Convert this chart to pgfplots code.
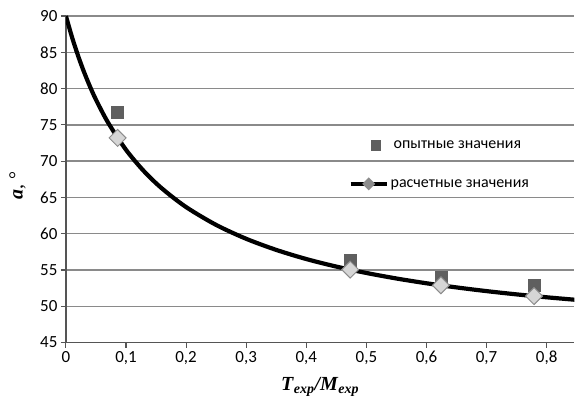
\documentclass[border=0pt]{standalone}
\usepackage{fontspec}
\setmainfont{Liberation Serif}
\newfontfamily\calfont{Carlito}
\usepackage{pgfplots}
\pgfplotsset{compat=1.18}
\definecolor{sqgray}{HTML}{5F5F5F}
\definecolor{dmfill}{HTML}{D6D6D6}
\definecolor{dmdraw}{HTML}{8C8C8C}
\definecolor{gridgray}{HTML}{8A8A8A}
\definecolor{axgray}{HTML}{555555}

\begin{document}
\begin{tikzpicture}
\begin{axis}[
  scale only axis,
  width=509pt, height=327pt,
  xmin=0, xmax=0.846,
  ymin=45, ymax=90,
  axis lines=left,
  axis line style={-, axgray, line width=1.2pt},
  xtick={0,0.1,0.2,0.3,0.4,0.5,0.6,0.7,0.8},
  xticklabels={0,{0,1},{0,2},{0,3},{0,4},{0,5},{0,6},{0,7},{0,8}},
  ytick={45,50,55,60,65,70,75,80,85,90},
  tick align=outside,
  major tick length=5pt,
  tick style={axgray, line width=1.1pt},
  ymajorgrids,
  major grid style={gridgray, line width=1.4pt},
  ticklabel style={font=\calfont\fontsize{17}{19}\selectfont, text=black},
  /pgf/number format/assume math mode=true,
  xlabel={\fontsize{20}{22}\selectfont\textbf{\textit{T}}\textsubscript{\fontsize{14}{15}\selectfont\textbf{\textit{exp}}}\textbf{\textit{/M}}\textsubscript{\fontsize{14}{15}\selectfont\textbf{\textit{exp}}}},
  xlabel style={at={(axis description cs:0.5,-0.135)}, anchor=center},
  ylabel={\fontsize{20}{22}\selectfont\textbf{\textit{a}}, °},
  ylabel style={at={(axis description cs:-0.095,0.48)}, anchor=center},
  legend style={draw=none, fill=none, at={(axis description cs:0.55,0.63)}, anchor=north west,
    font=\calfont\fontsize{16}{18}\selectfont, row sep=25pt, cells={anchor=west}},
]
\coordinate (A) at (rel axis cs:0,0);
\coordinate (B) at (rel axis cs:1,1);
% опытные значения
\addplot[only marks, mark=square*, mark size=6pt, color=sqgray,
  legend image code/.code={
    \fill[sqgray] (20pt,-5pt) rectangle (30pt,5pt);
  }]
  coordinates {(0.086,76.8) (0.473,56.3) (0.624,54.0) (0.779,52.9)};
\addlegendentry{\hspace{3pt}опытные значения}
% расчетная кривая
\addplot[black, line width=4.2pt, smooth, no marks,
  legend image code/.code={
    \draw[black, line width=4pt] (0pt,0pt) -- (36pt,0pt);
    \fill[dmdraw] (18pt,3.5pt) -- (21.5pt,0pt) -- (18pt,-3.5pt) -- (14.5pt,0pt) -- cycle;
  }]
  coordinates {
  (0,90) (0.01,87.12) (0.02,84.57) (0.03,82.31) (0.04,80.29) (0.05,78.47)
  (0.07,75.33) (0.1,71.56) (0.13,68.60) (0.16,66.22) (0.2,63.67)
  (0.25,61.21) (0.3,59.30) (0.35,57.77) (0.4,56.51) (0.45,55.47)
  (0.5,54.59) (0.55,53.83) (0.6,53.17) (0.65,52.60) (0.7,52.09)
  (0.75,51.64) (0.8,51.24) (0.85,50.88)};
\addlegendentry{расчетные значения}
\addplot[only marks, mark=square*, mark size=6pt, mark options={rotate=45, fill=dmfill, draw=dmdraw, line width=1pt}, forget plot]
  coordinates {(0.086,73.2) (0.473,55.05) (0.624,52.89) (0.779,51.41)};
\end{axis}
\path ([shift={(-66pt,-62pt)}]A) rectangle ([shift={(0pt,16pt)}]B);
\end{tikzpicture}
\end{document}
